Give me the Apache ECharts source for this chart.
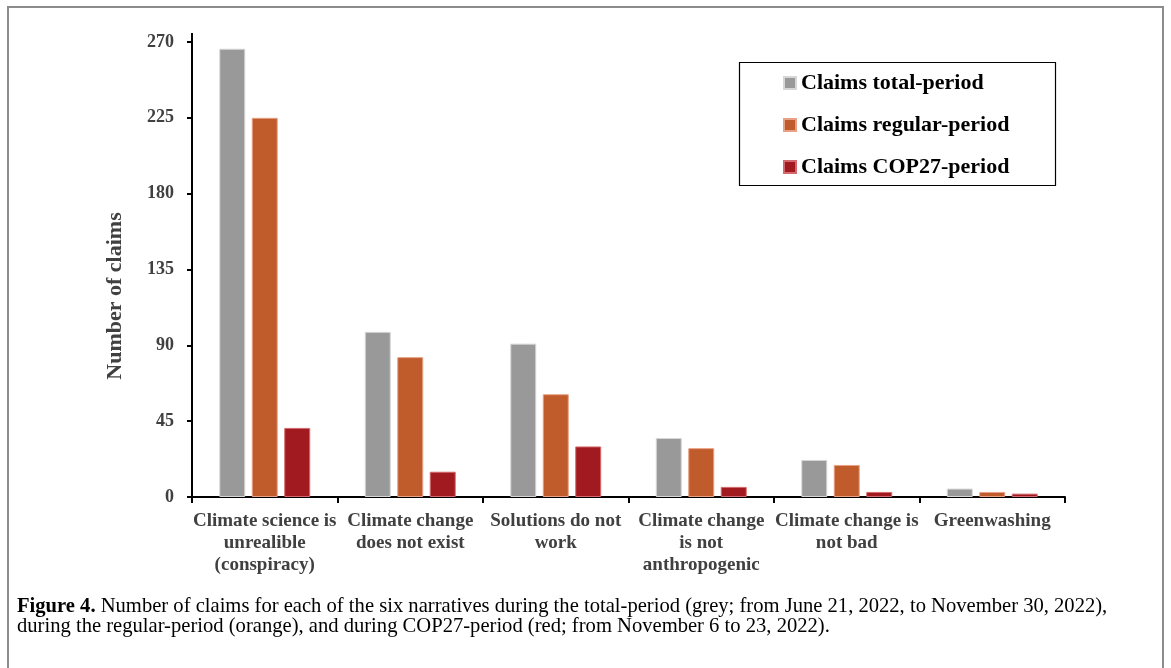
<!DOCTYPE html>
<html>
<head>
<meta charset="utf-8">
<script src="https://cdn.jsdelivr.net/npm/echarts@6/dist/echarts.min.js"></script>
<style>
  html, body { margin: 0; padding: 0; background: #ffffff; }
  #chart { width: 1171px; height: 668px; }
</style>
</head>
<body>
<div id="chart"></div>
<script>
// Narrative categories (line breaks as printed under the axis)
const categories = [
  'Climate science is\nunrealible\n(conspiracy)',
  'Climate change\ndoes not exist',
  'Solutions do not\nwork',
  'Climate change\nis not\nanthropogenic',
  'Climate change is\nnot bad',
  'Greenwashing'
];

// Number of claims per narrative
const totalPeriod   = [266, 98, 91, 35, 22, 5];
const regularPeriod = [225, 83, 61, 29, 19, 3];
const cop27Period   = [41, 15, 30, 6, 3, 2];

const seriesNames = ['Claims total-period', 'Claims regular-period', 'Claims COP27-period'];

// Value axis ticks
const yMin = 0;
const yMax = 270;
const yStep = 45;

const captionLine1 = 'Number of claims for each of the six narratives during the total-period (grey; from June 21, 2022, to November 30, 2022),';
const captionLine2 = 'during the regular-period (orange), and during COP27-period (red; from November 6 to 23, 2022).';

const SERIF = '"Liberation Serif", "Times New Roman", serif';
const colors = ['#999999', '#C05B2C', '#A11A1F'];
const edgeColors = ['#d6d6d6', '#e8a184', '#d46a6e'];

const chart = echarts.init(document.getElementById('chart'), null, { renderer: 'canvas' });

const barSeries = [totalPeriod, regularPeriod, cop27Period].map((values, i) => ({
  name: seriesNames[i],
  type: 'bar',
  data: values,
  barGap: '25%',
  barCategoryGap: '37.5%',
  itemStyle: { color: colors[i], borderColor: edgeColors[i], borderWidth: 1 },
  emphasis: { disabled: true },
  animation: false
}));

chart.setOption({
  backgroundColor: '#ffffff',
  animation: false,
  grid: { left: 192, right: 106, top: 42, bottom: 171 },
  legend: {
    orient: 'vertical',
    left: 783,
    top: 72,
    padding: 0,
    itemGap: 20,
    itemWidth: 12,
    itemHeight: 12,
    icon: 'rect',
    selectedMode: false,
    data: seriesNames,
    textStyle: {
      fontFamily: SERIF,
      fontWeight: 'bold',
      fontSize: 22,
      lineHeight: 22,
      color: '#000000',
      padding: [0, 0, 0, 0]
    }
  },
  xAxis: {
    type: 'category',
    data: categories,
    axisLine: { lineStyle: { color: '#000000', width: 2 } },
    axisTick: { show: true, alignWithLabel: false, length: 6, lineStyle: { color: '#000000', width: 2 } },
    axisLabel: {
      interval: 0,
      margin: 13,
      fontFamily: SERIF,
      fontWeight: 'bold',
      fontSize: 19,
      lineHeight: 22,
      color: '#404040',
      align: 'center'
    },
    splitLine: { show: false }
  },
  yAxis: {
    type: 'value',
    min: yMin,
    max: yMax,
    interval: yStep,
    axisLine: { show: true, lineStyle: { color: '#000000', width: 2 } },
    axisTick: { show: true, length: 5, lineStyle: { color: '#000000', width: 2 } },
    axisLabel: {
      margin: 18,
      fontFamily: SERIF,
      fontWeight: 'bold',
      fontSize: 18,
      color: '#404040'
    },
    splitLine: { show: false }
  },
  graphic: [
    // outer figure frame
    {
      type: 'rect',
      silent: true,
      shape: { x: 8, y: 7, width: 1155, height: 680 },
      style: { fill: 'none', stroke: '#8c8c8c', lineWidth: 2 },
      z: 0
    },
    // small extension of the value axis above the top tick
    {
      type: 'line',
      silent: true,
      shape: { x1: 192, y1: 33, x2: 192, y2: 43 },
      style: { stroke: '#000000', lineWidth: 2 },
      z: 10
    },
    // legend frame
    {
      type: 'rect',
      silent: true,
      shape: { x: 739.5, y: 62.5, width: 316, height: 123 },
      style: { fill: 'none', stroke: '#000000', lineWidth: 1.2 },
      z: 10
    },
    // y-axis title
    {
      type: 'text',
      silent: true,
      x: 115,
      y: 296,
      rotation: Math.PI / 2,
      style: {
        text: 'Number of claims',
        fontFamily: SERIF,
        fontWeight: 'bold',
        fontSize: 22,
        fill: '#404040',
        align: 'center',
        verticalAlign: 'middle'
      },
      z: 10
    },
    // caption
    {
      type: 'text',
      silent: true,
      x: 17,
      y: 607,
      style: {
        text: '{b|Figure 4.} ' + captionLine1,
        fontFamily: SERIF,
        fontSize: 20.6,
        fill: '#000000',
        verticalAlign: 'middle',
        rich: {
          b: { fontFamily: SERIF, fontWeight: 'bold', fontSize: 20.6, fill: '#000000' }
        }
      },
      z: 10
    },
    {
      type: 'text',
      silent: true,
      x: 17,
      y: 627,
      style: {
        text: captionLine2,
        fontFamily: SERIF,
        fontSize: 20.6,
        fill: '#000000',
        verticalAlign: 'middle'
      },
      z: 10
    }
  ],
  series: barSeries
});
</script>
</body>
</html>
